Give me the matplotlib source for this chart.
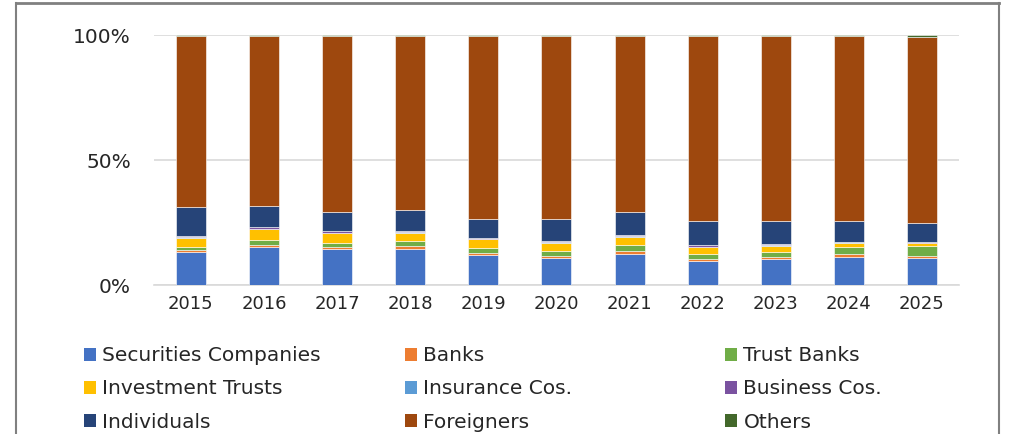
import matplotlib.pyplot as plt
import numpy as np
from matplotlib.lines import Line2D
from matplotlib.patches import Patch

years = ["2015", "2016", "2017", "2018", "2019", "2020", "2021", "2022", "2023", "2024", "2025"]

# share of trading value by investor type (%)
securities = [13.3, 15.1, 14.3, 14.5, 12.1, 10.9, 12.3, 9.5, 10.3, 11.3, 10.9]
banks      = [0.6, 0.8, 0.8, 1.0, 0.7, 0.8, 1.2, 0.9, 0.9, 1.0, 0.8]
trust      = [1.3, 2.2, 1.8, 2.1, 2.1, 2.0, 2.6, 2.1, 2.0, 3.0, 3.9]
inv_trusts = [3.7, 4.3, 3.9, 3.3, 3.5, 3.2, 3.2, 2.7, 2.5, 1.6, 1.2]
insurance  = [0.2, 0.2, 0.2, 0.2, 0.2, 0.2, 0.2, 0.2, 0.2, 0.2, 0.2]
business   = [0.4, 0.5, 0.6, 0.4, 0.3, 0.4, 0.6, 0.6, 0.6, 0.2, 0.3]
individuals = [11.6, 8.6, 7.7, 8.4, 7.4, 8.8, 9.0, 9.5, 9.0, 8.2, 7.6]
others     = [0.2, 0.2, 0.2, 0.2, 0.2, 0.2, 0.2, 0.2, 0.2, 0.2, 0.8]
foreigners = list(100 - np.sum([securities, banks, trust, inv_trusts, insurance,
                                business, individuals, others], axis=0))

series = [
    ("Securities Companies", securities, "#4472C4"),
    ("Banks", banks, "#ED7D31"),
    ("Trust Banks", trust, "#70AD47"),
    ("Investment Trusts", inv_trusts, "#FFC000"),
    ("Insurance Cos.", insurance, "#5B9BD5"),
    ("Business Cos.", business, "#7A52A0"),
    ("Individuals", individuals, "#264478"),
    ("Foreigners", foreigners, "#9E480E"),
    ("Others", others, "#43682B"),
]

plt.rcParams['font.family'] = ['DejaVu Sans']

fig = plt.figure(figsize=(10.09, 4.34), dpi=100)
ax = fig.add_axes([0.153, 0.343, 0.797, 0.576])

x = np.arange(len(years))
bottom = np.zeros(len(years))
for name, vals, col in series:
    ax.bar(x, vals, bottom=bottom, width=0.41, color=col, edgecolor="white",
           linewidth=0.4, zorder=3)
    bottom += np.array(vals)

ax.set_xlim(-0.5, len(years) - 0.5)
ax.set_ylim(0, 100)
ax.set_yticks([0, 50, 100])
ax.set_yticklabels(["0%", "50%", "100%"], fontsize=14.5)
ax.set_xticks(x)
ax.set_xticklabels(years, fontsize=13)
ax.tick_params(length=0, colors="#262626")
ax.tick_params(axis="y", pad=17)
ax.tick_params(axis="x", pad=7)
ax.yaxis.grid(True, color="#d9d9d9", linewidth=1.2, zorder=0)
for s in ["top", "right", "left"]:
    ax.spines[s].set_visible(False)
ax.spines["bottom"].set_color("#d9d9d9")
ax.spines["bottom"].set_linewidth(1.2)

# legend in three columns
cols = [[0, 3, 6], [1, 4, 7], [2, 5, 8]]
anchors = [0.083, 0.401, 0.7185]
for idx, xa in zip(cols, anchors):
    handles = [Patch(facecolor=series[i][2]) for i in idx]
    labels = [series[i][0] for i in idx]
    leg = fig.legend(handles, labels, loc="upper left", bbox_to_anchor=(xa, 0.202),
                     frameon=False, fontsize=14.5, handlelength=0.62, handleheight=0.62,
                     handletextpad=0.3, labelspacing=0.7, borderaxespad=0, borderpad=0)
    for t in leg.get_texts():
        t.set_color("#262626")

# chart area border
lc = "#808080"
fig.add_artist(Line2D([0.016, 0.99], [0.993, 0.993], color=lc, linewidth=2))
fig.add_artist(Line2D([0.016, 0.016], [0.0, 0.993], color=lc, linewidth=1.5))
fig.add_artist(Line2D([0.99, 0.99], [0.0, 0.993], color=lc, linewidth=1.5))

fig.savefig("out.png", dpi=100)
